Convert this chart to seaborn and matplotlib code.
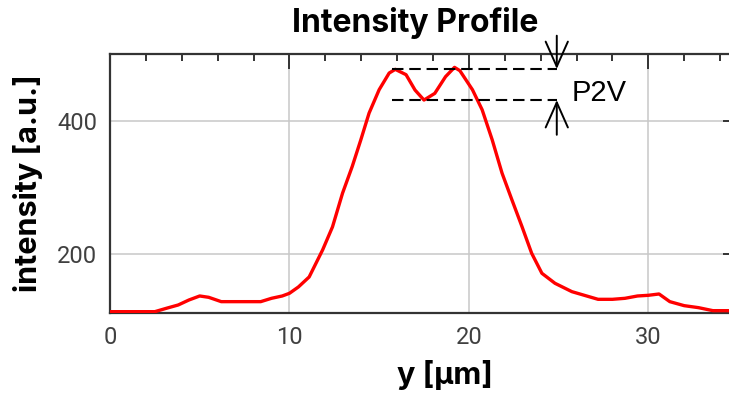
import numpy as np
import pandas as pd
import matplotlib
matplotlib.use("Agg")
import matplotlib.pyplot as plt
import seaborn as sns
from matplotlib.ticker import MultipleLocator

# ---- data ----
pos_um = [0, 1, 2, 2.5, 3.2, 3.8, 4.4, 5.0, 5.5, 6.2, 7.0, 8.0, 8.4, 9.0, 9.6,
          10.0, 10.5, 11.1, 11.85, 12.4, 12.96, 13.5, 13.98, 14.44, 15.0, 15.56,
          15.9, 16.5, 17.0, 17.5, 18.1, 18.7, 19.2, 19.5, 20.2, 20.74, 21.3, 21.85,
          22.4, 22.96, 23.5, 24.07, 24.8, 25.74, 26.5, 27.2, 28.0, 28.7, 29.4, 30.0,
          30.6, 31.2, 32.0, 32.8, 33.6, 34.4, 35.0]
intensity = [114, 114, 114, 114, 119.5, 124, 131.5, 137.5, 135.5, 129, 129, 129, 129,
             134, 137.5, 141.5, 151, 166, 206.5, 241, 291.5, 331.5, 371.5, 411.5,
             446.5, 471.5, 477, 469, 446, 431, 441, 466, 480, 475, 446.5, 416.5,
             371.5, 321.5, 281.5, 241.5, 201.5, 171.5, 156.5, 144, 138, 132.5, 132.5,
             134, 137.5, 138.5, 140.5, 129, 123, 120, 115.5, 115.5, 115]
x_ticks = [0, 10, 20, 30]
y_ticks = [200, 400]
title = "Intensity Profile"
x_label = "y [µm]"
y_label = "intensity [a.u.]"
p2v_label = "P2V"
p2v_x = 24.9

df = pd.DataFrame({"pos": pos_um, "intensity": intensity})

sns.set_theme(style="white")
plt.rcParams["font.family"] = ["Roboto", "DejaVu Sans"]

W, H = 729, 397
fig = plt.figure(figsize=(W / 100, H / 100), dpi=100)
ax = fig.add_axes([110 / W, 1 - 313 / H, (738 - 110) / W, (313 - 54) / H])

sns.lineplot(data=df, x="pos", y="intensity", color="#ff0000", linewidth=2.4, ax=ax,
             zorder=3)

ax.set_xlim(0, 35)
ax.set_ylim(112, 500)
ax.set_xticks(x_ticks)
ax.set_yticks(y_ticks)
ax.xaxis.set_minor_locator(MultipleLocator(2))
ax.yaxis.set_minor_locator(MultipleLocator(50))
ax.grid(True, which="major", color="#c8c8c8", linewidth=1.1, zorder=0)
ax.tick_params(which="both", direction="in", top=True, right=True, width=1.4,
               color="#333333", labelsize=17, labelcolor="#404040")
ax.tick_params(which="major", length=10.8, pad=9)
ax.tick_params(which="minor", length=5)
for s in ax.spines.values():
    s.set_color("#333333")
    s.set_linewidth(1.6)
ax.set_xlabel("")
ax.set_ylabel("")

# P2V markers from the data
y_arr = np.array(intensity)
x_arr = np.array(pos_um)
peak = y_arr.max()
mask = (x_arr > 16) & (x_arr < 19)
valley = y_arr[mask].min()
x_start = 15.7
ax.hlines([peak - 2.5, valley], x_start, p2v_x, colors="black",
          linestyles=(0, (5.5, 2.8)), linewidth=1.5, zorder=4)
arrow_kw = dict(arrowstyle="->,head_length=1.8,head_width=0.8", lw=1.4, color="black",
                shrinkA=0, shrinkB=0, mutation_scale=10)
ax.annotate("", xy=(p2v_x, peak - 2.5), xytext=(0, 24), textcoords="offset points",
            arrowprops=arrow_kw, annotation_clip=False)
ax.annotate("", xy=(p2v_x, valley), xytext=(0, -25), textcoords="offset points",
            arrowprops=arrow_kw, annotation_clip=False)
ax.text(25.75, 442, p2v_label, va="center", ha="left", fontsize=21, color="black",
        family=["Liberation Sans", "DejaVu Sans"])

fig.text(415 / W, 1 - 32 / H, title, ha="center", va="baseline", fontsize=23,
         fontweight="bold", color="black", family=["Inter", "DejaVu Sans"])
fig.text(445 / W, 1 - 375 / H, x_label, ha="center", va="center", fontsize=22,
         fontweight="bold", color="black", family=["Inter", "DejaVu Sans"])
fig.text(28 / W, 1 - 183.5 / H, y_label, ha="center", va="center", rotation=90,
         fontsize=22, fontweight="bold", color="black", family=["Inter", "DejaVu Sans"])

fig.savefig("out.png", dpi=100)
